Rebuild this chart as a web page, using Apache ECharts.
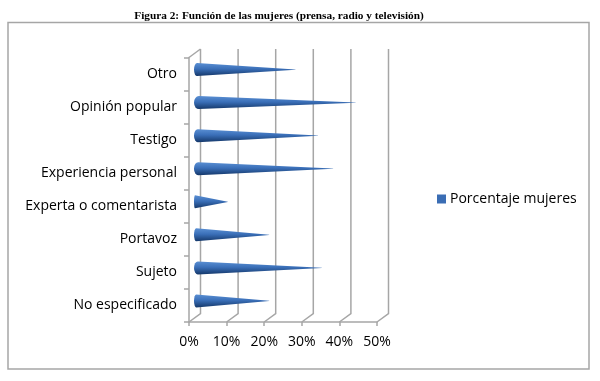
<!DOCTYPE html>
<html>
<head>
<meta charset="utf-8">
<script src="https://cdn.jsdelivr.net/npm/echarts@6/dist/echarts.min.js"></script>
<style>html,body{margin:0;padding:0;background:#fff}#c{width:600px;height:381px}</style>
</head>
<body>
<div id="c"></div>
<script>
const titleText = 'Figura 2: Función de las mujeres (prensa, radio y televisión)';
const seriesName = 'Porcentaje mujeres';
const categories = ['Otro', 'Opinión popular', 'Testigo', 'Experiencia personal', 'Experta o comentarista', 'Portavoz', 'Sujeto', 'No especificado'];
const values = [27, 43, 33, 37, 9, 20, 34, 20];
const xTicks = [0, 10, 20, 30, 40, 50];

const FONT = 'Open Sans';
const FS = 14;
const GRID_COLOR = '#a6a6a6';
const DX = 11.5, DY = 8.5;

const chart = echarts.init(document.getElementById('c'), null, {renderer: 'canvas'});
chart.setOption({
  animation: false,
  backgroundColor: '#fff',
  title: {
    text: titleText, left: 274, top: 6, textAlign: 'center',
    textStyle: {fontFamily: 'Liberation Serif', fontWeight: 'bold', fontSize: 11.3, color: '#000'}
  },
  graphic: [{
    type: 'rect', shape: {x: 8, y: 22.5, width: 581, height: 346.5},
    style: {fill: 'none', stroke: '#a6a6a6', lineWidth: 1.5}, silent: true
  }],
  legend: {
    left: 432, top: 187, itemWidth: 9, itemHeight: 9, icon: 'rect',
    data: [{name: seriesName, itemStyle: {color: '#3a6db4'}}],
    textStyle: {fontFamily: FONT, fontSize: FS, color: '#000', padding: [0,0,0,-1]}
  },
  grid: {left: 189, top: 57.5, width: 188, height: 264.5},
  xAxis: {
    type: 'value', min: 0, max: 50, interval: 10,
    axisLine: {show: true, lineStyle: {color: GRID_COLOR, width: 1.5}},
    axisTick: {show: true, length: 4, lineStyle: {color: GRID_COLOR, width: 1.5}},
    splitLine: {show: false},
    axisLabel: {formatter: '{value}%', fontFamily: FONT, fontSize: FS, color: '#000', margin: 13}
  },
  yAxis: {
    type: 'category', data: categories, inverse: true,
    axisLine: {show: true, lineStyle: {color: GRID_COLOR, width: 1.5}},
    axisTick: {show: true, length: 5, lineStyle: {color: GRID_COLOR, width: 1.5}},
    axisLabel: {fontFamily: FONT, fontSize: FS, color: '#000', margin: 12}
  },
  series: [
    {
      type: 'custom', silent: true, z: 1,
      data: xTicks.map(v => [v, 0]),
      encode: {x: 0, y: 1},
      renderItem: function (params, api) {
        const cs = params.coordSys;
        const x = api.coord([api.value(0), 0])[0];
        const top = cs.y, bottom = cs.y + cs.height;
        const style = {stroke: GRID_COLOR, lineWidth: 1.5, fill: 'none'};
        const children = [{
          type: 'polyline',
          shape: {points: [[x, bottom], [x + DX, bottom - DY], [x + DX, top - DY]]},
          style: style
        }];
        if (api.value(0) === 0) {
          children.push({type: 'line', shape: {x1: x, y1: top, x2: x + DX, y2: top - DY}, style: style});
        }
        return {type: 'group', children: children};
      }
    },
    {
      name: seriesName,
      type: 'pictorialBar', z: 3,
      data: values,
      symbol: 'path://M3,0 L100,49 L100,51 L3,100 A3,50 0 0 1 3,0 Z',
      symbolSize: ['100%', 13],
      symbolPosition: 'start',
      symbolOffset: [5, -4.5],
      itemStyle: {
        color: {
          type: 'linear', x: 0, y: 0, x2: 0, y2: 1,
          colorStops: [
            {offset: 0, color: '#5a8fd3'},
            {offset: 0.45, color: '#3a6fb8'},
            {offset: 1, color: '#15386a'}
          ]
        }
      }
    }
  ]
});
</script>
</body>
</html>
